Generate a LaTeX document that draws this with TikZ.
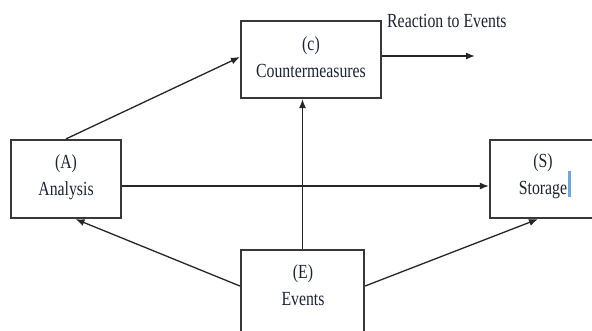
\documentclass[tikz,border=0pt]{standalone}
\usepackage{fontspec}
\usetikzlibrary{arrows.meta}
\newfontfamily\labfont[FakeStretch=0.79]{Liberation Serif}
\definecolor{txt}{rgb}{0.12,0.14,0.2}
\definecolor{boxln}{gray}{0.22}
\definecolor{cursor}{rgb}{0.45,0.65,0.87}
\tikzset{
  box/.style={draw=boxln, line width=2.2pt, fill=white, inner sep=0pt},
  lab/.style={text=txt, font=\labfont\fontsize{20}{27}\selectfont, align=center, inner sep=0pt},
  arr/.style={draw=black!85, line width=1.3pt, -{Latex[length=9pt,width=7pt]}}
}
\begin{document}
\begin{tikzpicture}[x=1pt,y=-1pt]
\useasboundingbox (0,0) rectangle (592,330);
\clip (0,0) rectangle (592,330);
\fill[white] (0,0) rectangle (592,330);
% boxes
\node[box, minimum width=140pt, minimum height=77pt] (C) at (311,59.5) {};
\node[box, minimum width=110pt, minimum height=78pt] (A) at (66,179) {};
\node[box, minimum width=112pt, minimum height=78pt] (S) at (546,179) {};
\node[box, minimum width=123pt, minimum height=90pt] (E) at (302.5,295) {};
% texts
\node[lab] (Ct) at (311,57) {(c)\\Countermeasures};
\node[lab] (At) at (66,177) {(A)\\Analysis};
\node[lab] (St) at (543,176.5) {(S)\\Storage};
\node[lab] (Et) at (303,285.5) {(E)\\Events};
\node[lab, anchor=west] (R) at (387,21) {Reaction to Events};
% cursor mark
\fill[cursor] (568,171) rectangle (571,197);
% connectors
\coordinate (Rend) at (475,56);
\draw[arr] ([yshift=3.5pt]C.east) -- (Rend);
\draw[arr] (A.north) -- ([yshift=2.5pt]C.west);
\draw[arr] ([yshift=-7pt]A.east) -- ([yshift=-7pt]S.west);
\draw[arr] (E.north) -- (E.north |- C.south);
\draw[arr] ([yshift=9pt]E.west) -- ([xshift=9.5pt]A.south);
\draw[arr] ([yshift=9pt]E.east) -- ([xshift=-8pt]S.south);
\end{tikzpicture}
\end{document}
